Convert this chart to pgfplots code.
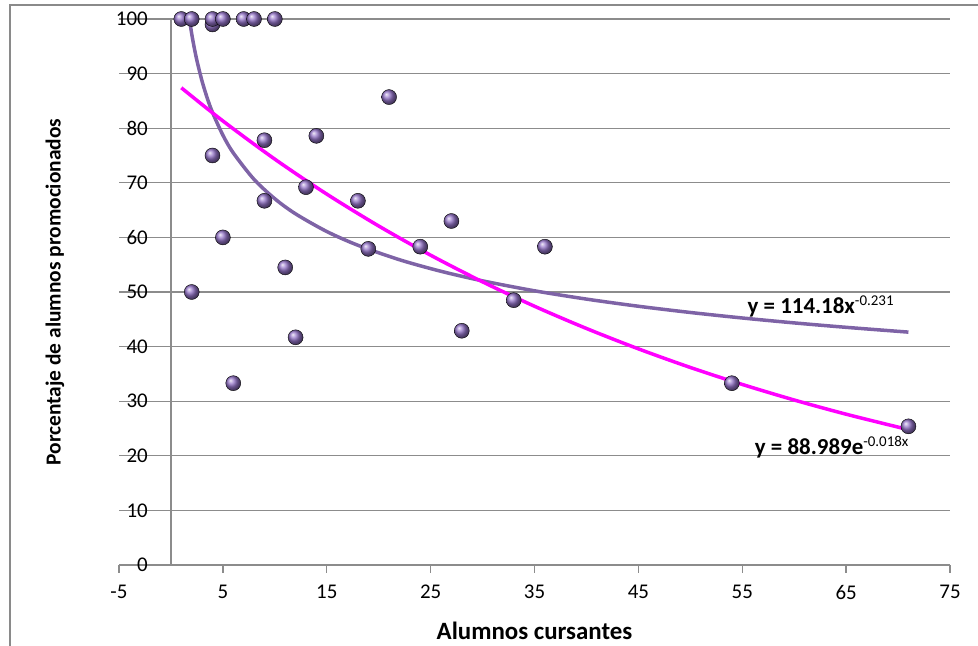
\documentclass[border=0pt]{standalone}
\usepackage{pgfplots}
\pgfplotsset{compat=1.18}
\usepackage{fontspec}
\setmainfont{Carlito}
\definecolor{gridc}{HTML}{8C8C8C}
\definecolor{framec}{HTML}{8A8A8A}
\definecolor{ballc}{HTML}{9474C8}
\definecolor{powc}{HTML}{7E63A6}
\definecolor{expc}{HTML}{FF00FF}
\begin{document}
\begin{tikzpicture}
\useasboundingbox (0bp,0bp) rectangle (978bp,646bp);
\draw[framec, line width=2.2bp] (10bp,0bp) -- (10bp,641bp) -- (978bp,641bp);
\begin{axis}[
  at={(119bp,81bp)}, anchor=south west,
  scale only axis, width=831bp, height=546bp,
  xmin=-5, xmax=75, ymin=0, ymax=100,
  xtick={-5,5,...,75}, ytick={0,10,...,100},
  axis line style={draw=none},
  ymajorgrids, major grid style={gridc, line width=1.3bp},
  xtick pos=bottom, ytick pos=left,
  tick align=outside, major tick length=8bp,
  xtick style={gridc, line width=1.3bp},
  ytick style={draw=none},
  xticklabel style={font=\fontsize{21}{21}\selectfont, inner sep=0pt, anchor=north, yshift=-12bp},
  yticklabel style={font=\fontsize{21}{21}\selectfont, inner sep=0pt, anchor=east, xshift=37bp},
  /pgf/number format/assume math mode=true,
  xlabel={Alumnos cursantes},
  ylabel={Porcentaje de alumnos promocionados},
  xlabel style={font=\bfseries\fontsize{25}{25}\selectfont, at={(axis description cs:0.5,0)}, anchor=center, yshift=-66bp},
  ylabel style={font=\bfseries\fontsize{21.5}{21.5}\selectfont, at={(axis description cs:0,0.5)}, anchor=center, yshift=64bp},
  clip=false,
]
\draw[gridc, line width=1.3bp] (axis cs:0,0) -- (axis cs:0,100);
\addplot[only marks, mark=ball, ball color=ballc, mark size=7.5bp] coordinates {
(1,100) (2,100) (4,99) (4,100) (5,100) (7,100) (8,100) (10,100)
(4,75) (9,77.8) (14,78.6) (13,69.2) (18,66.7) (9,66.7) (5,60)
(19,57.9) (24,58.3) (11,54.5) (2,50) (12,41.7) (6,33.3) (21,85.7)
(27,63.0) (36,58.3) (33,48.5) (28,42.9) (54,33.3) (71,25.4)
};
\addplot[powc, line width=3.5bp, smooth, no marks] coordinates {
(1.775,100) (2,97.29) (2.2,95.17) (2.5,92.40) (3,88.58) (3.5,85.49) (4,82.89)
(5,78.73) (6,75.48) (8,70.63) (10,67.08) (12,64.31) (15,61.08) (18,58.56)
(22,55.91) (26,53.79) (30,52.04) (35,50.22) (40,48.70) (45,47.39) (50,46.25)
(55,45.24) (60,44.34) (65,43.53) (71,42.65)
};
\addplot[expc, line width=3.5bp, smooth, no marks] coordinates {
(1,87.40) (5,81.33) (10,74.33) (15,67.93) (20,62.09) (25,56.74) (30,51.86)
(35,47.39) (40,43.32) (45,39.59) (50,36.18) (55,33.07) (60,30.22) (65,27.62) (71,24.79)
};
\node[anchor=west, inner sep=0pt] at (axis cs:55.5,47.3) {\fontsize{23}{23}\selectfont\textbf{y = 114.18x}\raisebox{8bp}{\fontsize{15}{15}\selectfont -0.231}};
\node[anchor=west, inner sep=0pt] at (axis cs:56.2,21.6) {\fontsize{23}{23}\selectfont\textbf{y = 88.989e}\raisebox{8bp}{\fontsize{15}{15}\selectfont -0.018x}};
\end{axis}
\end{tikzpicture}
\end{document}
